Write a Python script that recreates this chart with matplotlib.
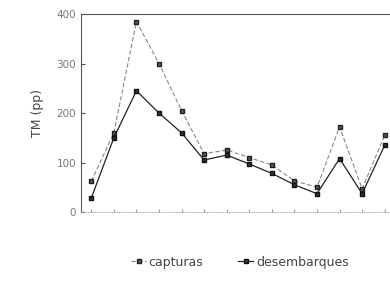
import matplotlib.pyplot as plt
import numpy as np

# datos (TM)
periodos = np.arange(14)
capturas = [62, 160, 385, 300, 205, 118, 125, 110, 95, 63, 50, 172, 47, 155]
desembarques = [28, 150, 245, 200, 160, 105, 115, 97, 78, 55, 37, 108, 37, 135]

fig = plt.figure(figsize=(3.9, 2.94), dpi=100)
ax = fig.add_axes([0.208, 0.279, 0.79, 0.673])

ax.plot(periodos, capturas, color='#888888', ls='--', lw=0.8, dashes=(4, 2),
        marker='s', ms=3.5, mfc='#555555', mec='#222222', label='capturas')
ax.plot(periodos, desembarques, color='#222222', ls='-', lw=0.9,
        marker='s', ms=3.5, mfc='#333333', mec='#111111', label='desembarques')

ax.set_ylim(0, 400)
ax.set_xlim(-0.45, 13.2)
ax.set_yticks([0, 100, 200, 300, 400])
ax.set_xticks(periodos)
ax.set_xticklabels([])
ax.tick_params(axis='y', direction='in', length=3, labelsize=7.5, labelcolor='#777777', colors='#555555')
ax.tick_params(axis='x', direction='in', length=2, colors='#999999')
ax.set_ylabel("TM (pp)", fontsize=9, color='#444444', labelpad=9)

ax.spines['right'].set_visible(False)
for s in ['left', 'top']:
    ax.spines[s].set_color('#555555')
    ax.spines[s].set_linewidth(0.8)
ax.spines['bottom'].set_color('#aaaaaa')
ax.spines['bottom'].set_linewidth(0.6)
ax.spines['bottom'].set_linestyle(':')

leg = fig.legend(loc='center', bbox_to_anchor=(0.615, 0.108), ncol=2, frameon=False,
                 fontsize=9, handlelength=1.2, handletextpad=0.2, columnspacing=2.8)
for t in leg.get_texts():
    t.set_color('#444444')

plt.savefig("out.png", dpi=100)
